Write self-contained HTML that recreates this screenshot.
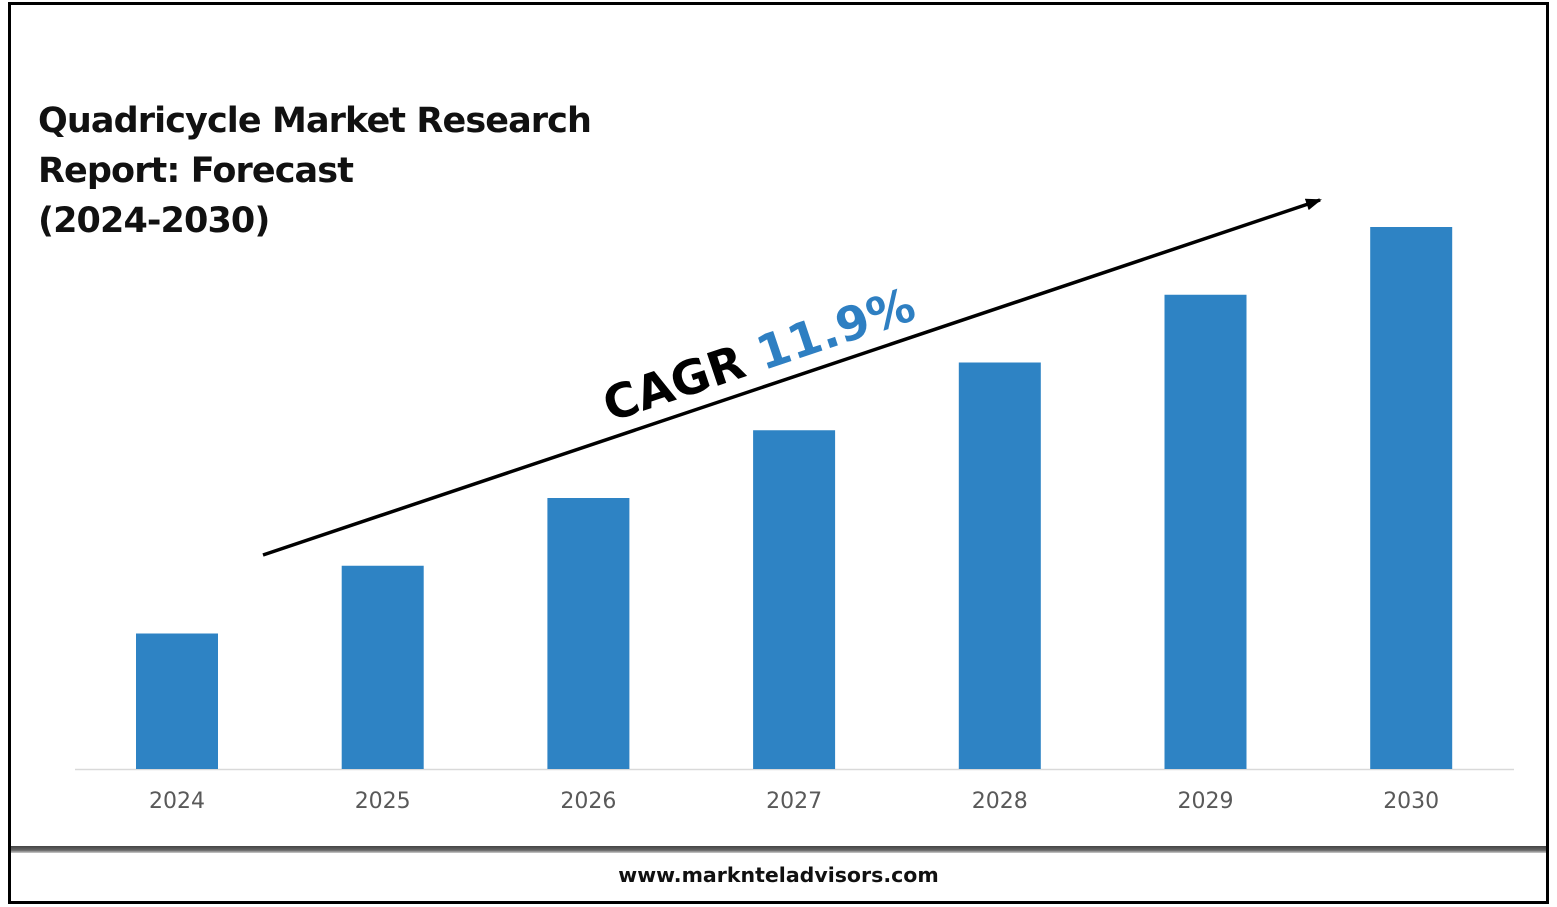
<!DOCTYPE html>
<html><head><meta charset="utf-8"><style>
html,body{margin:0;padding:0;background:#fff;}
body{width:1557px;height:907px;position:relative;overflow:hidden;font-family:"DejaVu Sans","Liberation Sans",sans-serif;}
#frame{position:absolute;left:8px;top:2px;width:1535px;height:896px;border:3px solid #000;}
#sep{position:absolute;left:11px;top:846px;width:1535px;height:7px;background:linear-gradient(#444,#666 60%,#ccc);}
#title{position:absolute;left:38px;top:96px;font-size:35px;font-weight:bold;line-height:50px;color:#111;letter-spacing:-0.9px;}
#url{position:absolute;left:0;width:1557px;top:863px;text-align:center;font-size:20.5px;font-weight:bold;color:#111;}
</style></head><body>
<div id="frame"></div>
<div id="sep"></div>
<div id="title">Quadricycle Market Research<br>Report: Forecast<br>(2024-2030)</div>
<div id="url">www.marknteladvisors.com</div>
<svg id="chart" width="1557" height="907" style="position:absolute;left:0;top:0">
<defs><marker id="ah" markerWidth="16" markerHeight="12" refX="14" refY="6" orient="auto" markerUnits="userSpaceOnUse"><path d="M0,0 L16,6 L0,12 z" fill="#000"/></marker></defs>
<line x1="75" y1="769.5" x2="1514" y2="769.5" stroke="#d9d9d9" stroke-width="1.5"/>
<g id="bars"></g>
<line x1="263" y1="555" x2="1320" y2="200" stroke="#000" stroke-width="3.5" marker-end="url(#ah)"/>
<text transform="translate(610,422) rotate(-18.6)" font-size="47" font-weight="bold" font-family="DejaVu Sans, Liberation Sans, sans-serif"><tspan fill="#000">CAGR </tspan><tspan fill="#2e7fc2">11.9%</tspan></text>
</svg>
<script>
const categories=["2024","2025","2026","2027","2028","2029","2030"];
const values=[2,3,4,5,6,7,8];
const yMax=8, baseY=769, plotH=542, x0=177, step=205.7, bw=82;
const yScale=v=>baseY-v/yMax*plotH;
const xScale=i=>x0+i*step;
const g=document.getElementById('bars');
const ns="http://www.w3.org/2000/svg";
values.forEach((v,i)=>{
 const r=document.createElementNS(ns,'rect');
 r.setAttribute('x',xScale(i)-bw/2);r.setAttribute('y',yScale(v));
 r.setAttribute('width',bw);r.setAttribute('height',baseY-yScale(v));
 r.setAttribute('fill','#2e83c4');
 
 
 g.appendChild(r);
 const t=document.createElementNS(ns,'text');
 t.setAttribute('x',xScale(i));t.setAttribute('y',808);
 t.setAttribute('text-anchor','middle');t.setAttribute('font-size','22');
 t.setAttribute('fill','#595959');t.setAttribute('font-family','DejaVu Sans, Liberation Sans, sans-serif');
 t.textContent=categories[i];
 
 
 g.appendChild(t);
});
</script>
</body></html>
